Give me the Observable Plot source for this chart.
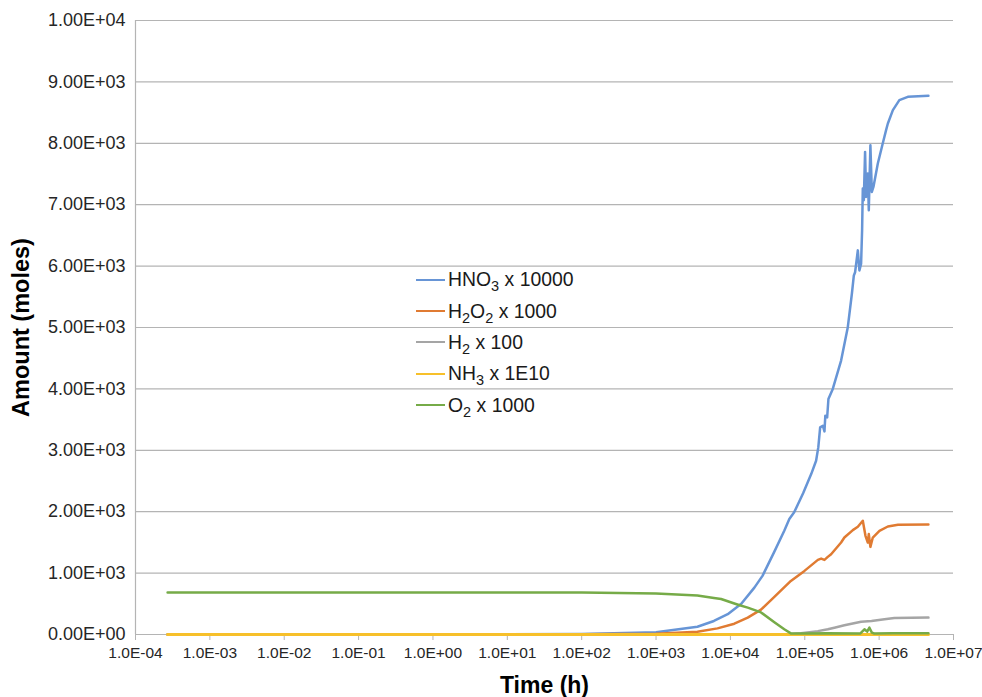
<!DOCTYPE html>
<html>
<head>
<meta charset="utf-8">
<script src="https://cdn.jsdelivr.net/npm/d3@7"></script>
<script src="https://cdn.jsdelivr.net/npm/@observablehq/plot@0.6"></script>
<style>
  body { margin: 0; background: #fff; font-family: "Liberation Sans", Arial, sans-serif; }
  #chart { position: relative; width: 982px; height: 697px; }
  #legend { position: absolute; left: 416px; top: 264px; }
  .row { display: flex; align-items: center; height: 31.4px; font-size: 19.4px; color: #1a1a1a; white-space: nowrap; }
  .sw { width: 29px; height: 0; border-top: 2px solid; margin-right: 3px; }
  sub { font-size: 75%; vertical-align: -0.32em; line-height: 0; }
</style>
</head>
<body>
<div id="chart"></div>
<script>
// Time in hours, amounts in (scaled) moles
const hno3Time   = [2.7e-4, 1e1, 1e2, 1e3, 3.6e3, 6.0e3, 9.2e3, 1.4e4, 2.1e4, 2.7e4, 3.9e4, 5.3e4, 6.2e4, 7.2e4, 9.5e4, 1.22e5, 1.42e5, 1.52e5, 1.61e5, 1.75e5, 1.84e5, 1.89e5, 2.0e5, 2.08e5, 2.38e5, 3.08e5, 3.79e5, 4.30e5, 4.57e5, 4.75e5, 5.17e5, 5.43e5, 5.72e5, 5.9e5, 6.03e5, 6.22e5, 6.47e5, 6.68e5, 7.04e5, 7.26e5, 7.63e5, 7.98e5, 8.38e5, 9.6e5, 1.12e6, 1.24e6, 1.31e6, 1.53e6, 1.87e6, 2.43e6, 4.6e6];
const hno3Amount = [0, 3, 10, 35, 127, 220, 330, 502, 763, 955, 1350, 1690, 1880, 1990, 2300, 2613, 2830, 3047, 3373, 3400, 3308, 3564, 3536, 3836, 4000, 4461, 5005, 5550, 5848, 5900, 6256, 5930, 6039, 6582, 7263, 7072, 7860, 7126, 7507, 6909, 7969, 7207, 7289, 7670, 8000, 8214, 8323, 8540, 8703, 8757, 8773];

const h2o2Time   = [2.7e-4, 1e2, 1e3, 3.6e3, 6.7e3, 1.13e4, 1.71e4, 2.58e4, 3.9e4, 6.5e4, 9.9e4, 1.5e5, 1.66e5, 1.84e5, 2.04e5, 2.26e5, 3.08e5, 3.41e5, 4.43e5, 5.17e5, 6.03e5, 6.55e5, 7.04e5, 7.26e5, 7.63e5, 8.22e5, 1.01e6, 1.31e6, 1.79e6, 4.6e6];
const h2o2Amount = [0, 3, 12, 45, 100, 176, 274, 405, 612, 873, 1036, 1215, 1237, 1215, 1264, 1308, 1498, 1579, 1700, 1754, 1852, 1607, 1498, 1635, 1427, 1579, 1688, 1759, 1786, 1790];

const h2Time   = [2.7e-4, 6.0e4, 8.9e4, 1.5e5, 2.04e5, 2.5e5, 3.41e5, 5.72e5, 7.9e5, 1.18e6, 1.6e6, 4.6e6];
const h2Amount = [0, 5, 20, 55, 85, 111, 150, 209, 220, 248, 270, 275];

const nh3Time   = [2.7e-4, 1e2, 1e5, 4.6e6];
const nh3Amount = [0, 0, 0, 0];

const o2Time   = [2.7e-4, 1e2, 1e3, 3.6e3, 6.0e3, 7.5e3, 1.13e4, 1.3e4, 1.71e4, 2.58e4, 3.9e4, 5.3e4, 6.5e4, 1.0e5, 2.0e5, 5.6e5, 6.34e5, 6.9e5, 7.4e5, 7.98e5, 8.6e5, 1.5e6, 4.6e6];
const o2Amount = [685, 683, 668, 635, 595, 578, 505, 481, 437, 360, 200, 85, 18, 16, 22, 18, 85, 46, 111, 30, 16, 20, 20];

const seriesNames  = ["HNO3 x 10000", "H2O2 x 1000", "H2 x 100", "NH3 x 1E10", "O2 x 1000"];
const seriesColors = ["#6795d6", "#e07b32", "#a5a5a5", "#f7c02a", "#76ab48"];

const xTicks = [1e-4, 1e-3, 1e-2, 1e-1, 1e0, 1e1, 1e2, 1e3, 1e4, 1e5, 1e6, 1e7];
const yTicks = [0, 1000, 2000, 3000, 4000, 5000, 6000, 7000, 8000, 9000, 10000];

const seriesData = [
  [hno3Time, hno3Amount],
  [h2o2Time, h2o2Amount],
  [h2Time, h2Amount],
  [nh3Time, nh3Amount],
  [o2Time, o2Amount]
].map(([ts, vs], i) => ts.map((t, j) => ({series: seriesNames[i], t, v: vs[j]})));

// Excel-style scientific labels: 1.00E+04, 1.0E-04
function sci(v, digits) {
  if (v === 0) return (0).toFixed(digits) + "E+00";
  const e = Math.floor(Math.log10(Math.abs(v)) + 1e-9);
  const m = v / Math.pow(10, e);
  return m.toFixed(digits) + "E" + (e < 0 ? "-" : "+") + String(Math.abs(e)).padStart(2, "0");
}

const grid = "#b4b4b4";
const font = "'Liberation Sans', Arial, sans-serif";

const chart = Plot.plot({
  width: 982,
  height: 697,
  marginLeft: 135,
  marginRight: 29,
  marginTop: 20,
  marginBottom: 63,
  style: {fontFamily: font, background: "#fff", overflow: "visible"},
  x: {type: "log", domain: [1e-4, 1e7]},
  y: {domain: [0, 10000]},
  marks: [
    Plot.gridY(yTicks, {stroke: grid, strokeOpacity: 1, strokeWidth: 1.2}),
    Plot.ruleX([1e-4], {stroke: grid, strokeWidth: 1.2}),
    Plot.axisY(yTicks, {tickSize: 0, tickPadding: 10, tickFormat: d => sci(d, 2), fontSize: 18, fill: "#262626", label: null}),
    Plot.axisY({ticks: [], label: "Amount (moles)", labelAnchor: "center", labelArrow: "none", labelOffset: 123, fontSize: 23.5, fontWeight: "bold", fill: "#000"}),
    Plot.axisX(xTicks, {tickSize: 6, tickPadding: 6, tickFormat: d => sci(d, 1), fontSize: 15.5, stroke: grid, fill: "#262626", label: null}),
    Plot.axisX({ticks: [], label: "Time (h)", labelAnchor: "center", labelArrow: "none", labelOffset: 58, fontSize: 23, fontWeight: "bold", fill: "#000"}),
    Plot.ruleY([0], {stroke: grid, strokeWidth: 1.2}),
    ...seriesData.map((d, i) => Plot.line(d, {x: "t", y: "v", stroke: seriesColors[i], strokeWidth: i === 3 ? 3 : 2.5, curve: "linear"}))
  ]
});

const root = document.getElementById("chart");
root.appendChild(chart);

// Legend placed inside the plot area; digits in formulas become subscripts
const legend = document.createElement("div");
legend.id = "legend";
seriesNames.forEach((name, i) => {
  const row = document.createElement("div");
  row.className = "row";
  const sw = document.createElement("span");
  sw.className = "sw";
  sw.style.borderColor = seriesColors[i];
  const label = document.createElement("span");
  const cut = name.indexOf(" ");
  const formula = name.slice(0, cut).replace(/(\d)/g, "<sub>$1</sub>");
  label.innerHTML = formula + name.slice(cut);
  row.appendChild(sw);
  row.appendChild(label);
  legend.appendChild(row);
});
root.appendChild(legend);
</script>
</body>
</html>
